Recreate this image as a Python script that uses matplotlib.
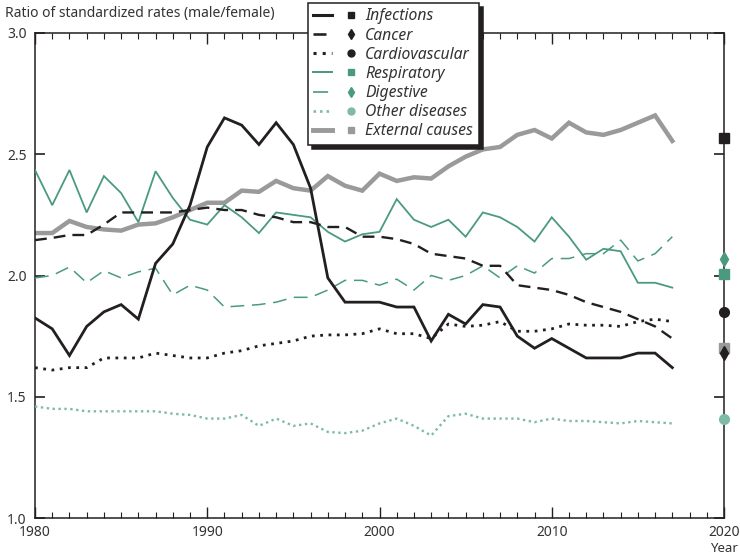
import matplotlib
matplotlib.use("Agg")
import matplotlib.pyplot as plt
from matplotlib.lines import Line2D
from matplotlib.legend_handler import HandlerTuple
from matplotlib.ticker import MultipleLocator

plt.rcParams['font.family'] = ['Noto Sans', 'DejaVu Sans']

years = list(range(1980, 2018))

infections = [1.825, 1.78, 1.67, 1.79, 1.85, 1.88, 1.82, 2.05, 2.13, 2.29,
              2.53, 2.65, 2.62, 2.54, 2.63, 2.54, 2.36, 1.99, 1.89, 1.89,
              1.89, 1.87, 1.87, 1.73, 1.84, 1.80, 1.88, 1.87, 1.75, 1.70,
              1.74, 1.70, 1.66, 1.66, 1.66, 1.68, 1.68, 1.62]
cancer = [2.146, 2.155, 2.167, 2.167, 2.21, 2.26, 2.26, 2.26, 2.26, 2.27,
          2.28, 2.27, 2.27, 2.25, 2.24, 2.22, 2.22, 2.20, 2.20, 2.16,
          2.16, 2.15, 2.13, 2.09, 2.08, 2.07, 2.04, 2.04, 1.96, 1.95,
          1.94, 1.92, 1.89, 1.87, 1.85, 1.82, 1.79, 1.74]
cardiovascular = [1.62, 1.61, 1.62, 1.62, 1.66, 1.66, 1.66, 1.68, 1.67, 1.66,
                  1.66, 1.68, 1.69, 1.71, 1.72, 1.73, 1.75, 1.755, 1.755, 1.76,
                  1.78, 1.76, 1.76, 1.74, 1.80, 1.79, 1.795, 1.81, 1.77, 1.77,
                  1.78, 1.80, 1.795, 1.795, 1.79, 1.81, 1.82, 1.81]
respiratory = [2.435, 2.29, 2.435, 2.26, 2.41, 2.34, 2.22, 2.43, 2.32, 2.23,
               2.21, 2.29, 2.24, 2.175, 2.26, 2.25, 2.24, 2.18, 2.14, 2.17,
               2.18, 2.315, 2.23, 2.20, 2.23, 2.16, 2.26, 2.24, 2.20, 2.14,
               2.24, 2.16, 2.065, 2.11, 2.10, 1.97, 1.97, 1.95]
digestive = [1.99, 2.00, 2.035, 1.97, 2.02, 1.99, 2.015, 2.03, 1.92, 1.96,
             1.94, 1.87, 1.875, 1.88, 1.89, 1.91, 1.91, 1.94, 1.98, 1.98,
             1.96, 1.985, 1.94, 2.00, 1.98, 2.00, 2.04, 1.99, 2.04, 2.01,
             2.07, 2.07, 2.09, 2.09, 2.146, 2.06, 2.09, 2.16]
other = [1.46, 1.45, 1.45, 1.44, 1.44, 1.44, 1.44, 1.44, 1.43, 1.425,
         1.41, 1.41, 1.425, 1.38, 1.41, 1.38, 1.39, 1.355, 1.35, 1.36,
         1.39, 1.41, 1.38, 1.34, 1.42, 1.43, 1.41, 1.41, 1.41, 1.395,
         1.41, 1.40, 1.40, 1.395, 1.39, 1.40, 1.395, 1.39]
external = [2.175, 2.175, 2.225, 2.20, 2.19, 2.185, 2.21, 2.215, 2.24, 2.27,
            2.30, 2.30, 2.35, 2.345, 2.39, 2.36, 2.35, 2.41, 2.37, 2.35,
            2.42, 2.39, 2.405, 2.40, 2.45, 2.49, 2.52, 2.53, 2.58, 2.60,
            2.565, 2.63, 2.59, 2.58, 2.60, 2.63, 2.66, 2.555]

names = ["Infections", "Cancer", "Cardiovascular", "Respiratory",
         "Digestive", "Other diseases", "External causes"]
target_year = 2020
target_values = [2.567, 1.68, 1.85, 2.006, 2.07, 1.41, 1.70]

BLACK = "#231f20"
GREEN = "#4a9a80"
LGREEN = "#7fbaa6"
GREY = "#9a9a9c"

styles = [
    dict(color=BLACK, lw=2.0, ls='-', marker='s', ms=7),
    dict(color=BLACK, lw=1.7, ls=(0, (5, 3)), marker='d', ms=7),
    dict(color=BLACK, lw=2.0, ls=(0, (1, 2)), marker='o', ms=7),
    dict(color=GREEN, lw=1.3, ls='-', marker='s', ms=7),
    dict(color=GREEN, lw=1.1, ls=(0, (9, 5)), marker='d', ms=7),
    dict(color=LGREEN, lw=1.7, ls=(0, (1, 1.5)), marker='o', ms=7),
    dict(color=GREY, lw=3.2, ls='-', marker='s', ms=7),
]
series = [infections, cancer, cardiovascular, respiratory, digestive, other, external]

fig = plt.figure(figsize=(7.4, 5.54), dpi=100)
ax = fig.add_axes([35/740, 1 - 518/554, (724-35)/740, (518-33)/554])

handles = []
order = [6, 5, 4, 3, 2, 1, 0]
for i in order:
    st = styles[i]
    ax.plot(years, series[i], color=st['color'], lw=st['lw'], ls=st['ls'],
            solid_joinstyle='miter', zorder=2 + (6 - i))
    ax.plot([target_year], [target_values[i]], marker=st['marker'],
            color=st['color'], ms=st['ms'], ls='none', clip_on=False, zorder=10)

for i in range(7):
    st = styles[i]
    l = Line2D([], [], color=st['color'], lw=st['lw'] * 1.1, ls=st['ls'])
    m = Line2D([], [], color=st['color'], marker=st['marker'], ms=5, ls='none')
    handles.append((l, m))

ax.set_xlim(1980, 2020)
ax.set_ylim(1.0, 3.0)
ax.xaxis.set_major_locator(MultipleLocator(10))
ax.xaxis.set_minor_locator(MultipleLocator(1))
ax.yaxis.set_major_locator(MultipleLocator(0.5))
ax.tick_params(axis='x', which='major', direction='in', length=8, width=1,
               top=True, bottom=True, labelsize=10, pad=5, color=BLACK)
ax.tick_params(axis='x', which='minor', direction='in', length=4, width=0.8,
               top=True, bottom=True, color=BLACK)
ax.tick_params(axis='y', which='major', direction='in', length=7, width=1.2,
               left=True, right=True, labelsize=10, pad=6, color=BLACK)
for lab in ax.get_xticklabels() + ax.get_yticklabels():
    lab.set_color("#333333")
for sp in ax.spines.values():
    sp.set_color(BLACK)
    sp.set_linewidth(1.1)
ax.yaxis.set_major_formatter(matplotlib.ticker.FormatStrFormatter('%.1f'))

fig.text(5/740, 1 - 14/554, "Ratio of standardized rates (male/female)",
         fontsize=10, color="#333333", va='center', ha='left')
fig.text(740/740 - 0.003, 1 - 548/554, "Year", fontsize=9.5, color="#333333",
         va='center', ha='right')

leg = fig.legend(handles, names, loc='upper left',
                 bbox_to_anchor=(308/740, 1 - 3/554), bbox_transform=fig.transFigure,
                 handler_map={tuple: HandlerTuple(ndivide=None, pad=0.6)},
                 handlelength=3.0, handletextpad=0.3, labelspacing=0.2,
                 borderpad=0.35, borderaxespad=0, fontsize=11.3, frameon=True,
                 fancybox=False,
                 shadow={'color': BLACK, 'alpha': 1.0, 'ox': 3, 'oy': -3})
leg.get_frame().set_edgecolor(BLACK)
leg.get_frame().set_linewidth(1.1)
for t in leg.get_texts():
    t.set_fontstyle('italic')
    t.set_color("#333333")
leg.set_zorder(20)

fig.savefig("out.png", dpi=100)
